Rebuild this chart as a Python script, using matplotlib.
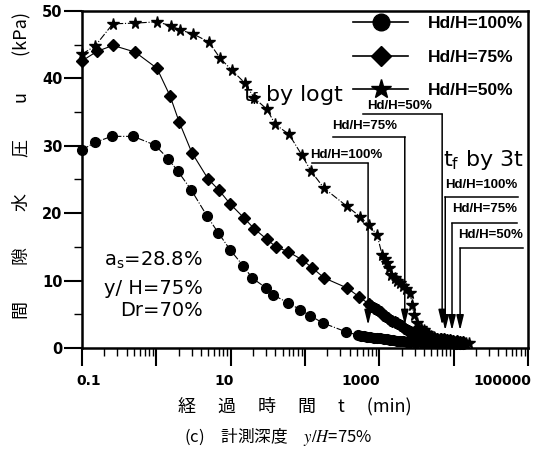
import matplotlib
matplotlib.use("Agg")
import matplotlib.pyplot as plt
from matplotlib.lines import Line2D
from matplotlib.ticker import FixedLocator, LogLocator, MultipleLocator, NullFormatter
from matplotlib.transforms import ScaledTranslation

plt.rcParams['mathtext.fontset'] = 'stix'

# Elapsed time t (min) and pore water pressure u (kPa) for each drainage condition
t_hd100 = [0.1, 0.15, 0.25, 0.49, 0.96, 1.44, 1.96, 2.93, 4.8, 6.8, 9.8, 14.7, 19.4, 30, 37, 59, 86,
           117, 175, 357, 518, 560, 620, 690, 760, 840, 930, 1030, 1140, 1260, 1400, 1550, 1720,
           1900, 2100, 2350, 2600, 2900, 3200, 3600, 4000, 4500, 5000, 5600, 6300, 7000, 7800,
           8700, 9700, 10800, 12000, 13300]
u_hd100 = [29.4, 30.5, 31.4, 31.4, 30.1, 28.1, 26.2, 23.5, 19.6, 17.1, 14.6, 12.2, 10.4, 8.9, 7.9,
           6.7, 5.7, 4.8, 3.7, 2.4, 1.9, 1.85, 1.8, 1.7, 1.65, 1.55, 1.5, 1.45, 1.4, 1.3, 1.25,
           1.2, 1.1, 1.05, 1.0, 0.95, 0.9, 0.9, 0.85, 0.85, 0.8, 0.8, 0.8, 0.75, 0.75, 0.75, 0.7,
           0.7, 0.7, 0.65, 0.65, 0.6]

t_hd75 = [0.1, 0.159, 0.261, 0.52, 1.02, 1.53, 2.02, 3.0, 4.96, 6.98, 9.8, 15.1, 20.7, 30.9, 40.8,
          59, 91, 125, 181, 369, 535, 729, 780, 840, 900, 970, 1040, 1120, 1200, 1300, 1400, 1500,
          1620, 1740, 1870, 2000, 2170, 2340, 2520, 2700, 2950, 3200, 3550, 3900, 4350, 4800,
          5400, 6000, 6700, 7500, 8200, 8900, 9900, 11000, 12200, 13400]
u_hd75 = [42.6, 44.0, 44.9, 43.9, 41.5, 37.4, 33.6, 29.0, 25.1, 23.4, 21.4, 19.3, 17.7, 16.1, 15.0,
          14.3, 13.1, 11.9, 10.4, 8.9, 7.6, 6.5, 6.3, 6.0, 5.8, 5.6, 5.3, 4.9, 4.7, 4.4, 4.2, 4.0,
          3.85, 3.7, 3.45, 3.2, 2.95, 2.7, 2.55, 2.4, 2.3, 2.2, 2.05, 1.9, 1.75, 1.6, 1.5, 1.4,
          1.35, 1.3, 1.25, 1.2, 1.1, 1.0, 0.95, 0.9]

t_hd50 = [0.1, 0.15, 0.26, 0.52, 1.02, 1.58, 2.08, 3.12, 5.1, 7.2, 10.4, 15.6, 20.7, 30.9, 39.6,
          61, 91, 121, 181, 369, 552, 729, 934, 1090, 1180, 1270, 1350, 1440, 1600, 1740, 1900,
          2090, 2300, 2600, 2760, 2940, 3230, 3600, 4000, 4400, 4700, 5000, 5500, 6000, 6500,
          7000, 7700, 8500, 9200, 10000, 11000, 12000, 13200, 14500, 16000]
u_hd50 = [43.6, 44.8, 48.1, 48.2, 48.4, 47.8, 47.2, 46.6, 45.4, 43.0, 41.2, 39.3, 37.1, 35.4, 33.2,
          31.7, 28.6, 26.2, 23.7, 21.0, 19.5, 18.2, 16.8, 13.8, 13.2, 12.6, 11.8, 10.9, 10.4, 10.0,
          9.6, 9.2, 8.7, 8.2, 6.4, 4.9, 3.7, 3.0, 2.6, 2.2, 2.0, 1.8, 1.6, 1.4, 1.3, 1.2, 1.1,
          1.0, 0.95, 0.9, 0.85, 0.8, 0.75, 0.7, 0.7]

series_labels = ['Hd/H=100%', 'Hd/H=75%', 'Hd/H=50%']

# End-of-consolidation times t_f (min) by the log t method and the 3t method
tf_logt = [706, 2200, 7000]
tf_3t = [7700, 9500, 12200]

x_ticks = [0.1, 1, 10, 100, 1000, 10000, 100000]
x_ticklabels = ['0.1', '', '10', '', '1000', '', '100000']
y_ticks = [0, 10, 20, 30, 40, 50]

fig = plt.figure(figsize=(5.44, 4.51), dpi=100)
ax = fig.add_axes([0.1507, 0.2284, 0.8199, 0.7472])

ax.plot(t_hd100, u_hd100, linestyle='-.', lw=0.8, color='k', marker='o', ms=7, clip_on=False, zorder=3)
ax.plot(t_hd75, u_hd75, linestyle='-', lw=0.8, color='k', marker='D', ms=5.8, clip_on=False, zorder=3)
ax.plot(t_hd50, u_hd50, linestyle='-.', lw=0.8, color='k', marker='*', ms=8.5, clip_on=False, zorder=3)

ax.set_xscale('log')
ax.set_xlim(0.1, 100000)
ax.set_ylim(0, 50)

ax.xaxis.set_major_locator(FixedLocator(x_ticks))
ax.set_xticklabels(x_ticklabels)
ax.xaxis.set_minor_locator(LogLocator(base=10, subs=range(2, 10), numticks=20))
ax.xaxis.set_minor_formatter(NullFormatter())
ax.set_yticks(y_ticks)
ax.yaxis.set_minor_locator(MultipleLocator(5))

for s in ax.spines.values():
    s.set_linewidth(1.8)
ax.tick_params(which='major', direction='out', length=13, width=1.5, pad=2)
ax.tick_params(which='minor', direction='out', length=6, width=1.0)
ax.tick_params(axis='y', which='major', pad=1)
ax.tick_params(axis='x', which='major', pad=6)

for lbl in ax.get_yticklabels():
    lbl.set_fontfamily('DejaVu Sans')
    lbl.set_fontweight('bold')
    lbl.set_fontsize(10.5)
label_shift = [7, 0, -7, 0, -19, 0, -26]
for lbl, dx in zip(ax.get_xticklabels(), label_shift):
    lbl.set_fontfamily('DejaVu Sans')
    lbl.set_fontweight('bold')
    lbl.set_fontsize(10)
    lbl.set_transform(lbl.get_transform() + ScaledTranslation(dx / 100, 0, fig.dpi_scale_trans))

cjk = ['Noto Sans CJK JP', 'DejaVu Sans']
ax.set_ylabel('間\u3000\u3000隙\u3000\u3000水\u3000\u3000圧\u3000\u3000u\u3000\u3000(kPa)',
              family=cjk, fontsize=13)
ax.yaxis.set_label_coords(-0.115, 0.543)
ax.set_xlabel('経\u3000 過\u3000 時\u3000 間\u3000 t\u3000 (min)', family=cjk, fontsize=13)
ax.xaxis.set_label_coords(0.478, -0.145)
fig.text(0.511, 0.031, '(c)\u3000計測深度\u3000$y/H$=75%', family=cjk, fontsize=12,
         ha='center', va='center')

# Test conditions
cond_font = dict(family='DejaVu Sans', fontsize=14, ha='right', va='center', transform=ax.transAxes)
ax.text(0.271, 0.261, r'$\mathregular{a_s}$=28.8%', **cond_font)
ax.text(0.271, 0.178, 'y/ H=75%', **cond_font)
ax.text(0.271, 0.110, 'Dr=70%', **cond_font)

# Legend
handles = [
    Line2D([], [], color='k', lw=1.2, marker='o', ms=12),
    Line2D([], [], color='k', lw=1.2, marker='D', ms=10),
    Line2D([], [], color='k', lw=1.2, marker='*', ms=15),
]
ax.legend(handles, series_labels, loc='upper right', bbox_to_anchor=(1.0, 1.0), frameon=False,
          prop=dict(family='Liberation Sans', weight='bold', size=12.5), handlelength=3.2,
          handletextpad=1.1, labelspacing=1.05, borderaxespad=0.0, borderpad=0.3)

# t_f markers: log t method (bracket runs left of the arrow)
ax.text(0.361, 0.751, r'$\mathregular{t_f}$ by logt', family='DejaVu Sans', fontsize=16,
        ha='left', va='center', transform=ax.transAxes)
logt_line_u = [27.4, 31.3, 34.7]
logt_line_start = [125, 239, 610]
logt_text_x = [117, 232, 686]
logt_text_u = [28.7, 32.9, 35.9]
arrow = dict(arrowstyle='-|>,head_length=0.9,head_width=0.22', color='k', lw=1.1,
             shrinkA=0, shrinkB=0, mutation_scale=10)
small_bold = dict(family='Liberation Sans', weight='bold', fontsize=9.5, va='center', ha='left')
for tf, lu, x0, tx, tu, lab in zip(tf_logt, logt_line_u, logt_line_start, logt_text_x, logt_text_u,
                                   series_labels):
    ax.plot([x0, tf], [lu, lu], color='k', lw=1.1)
    ax.annotate('', xy=(tf, 3.4), xytext=(tf, lu), arrowprops=arrow)
    ax.text(tx, tu, lab, **small_bold)

# t_f markers: 3t method (bracket runs right of the arrow)
ax.text(0.809, 0.558, r'$\mathregular{t_f}$ by 3t', family='DejaVu Sans', fontsize=16,
        ha='left', va='center', transform=ax.transAxes)
t3_line_u = [22.4, 18.5, 14.8]
t3_line_end = [73800, 71600, 86000]
t3_text_x = [7700, 9550, 11500]
t3_text_u = [24.2, 20.6, 16.8]
for tf, lu, x1, tx, tu, lab in zip(tf_3t, t3_line_u, t3_line_end, t3_text_x, t3_text_u,
                                   series_labels):
    ax.plot([tf, x1], [lu, lu], color='k', lw=1.1)
    ax.annotate('', xy=(tf, 2.6), xytext=(tf, lu), arrowprops=arrow)
    ax.text(tx, tu, lab, **small_bold)

fig.savefig('out.png', dpi=100)
